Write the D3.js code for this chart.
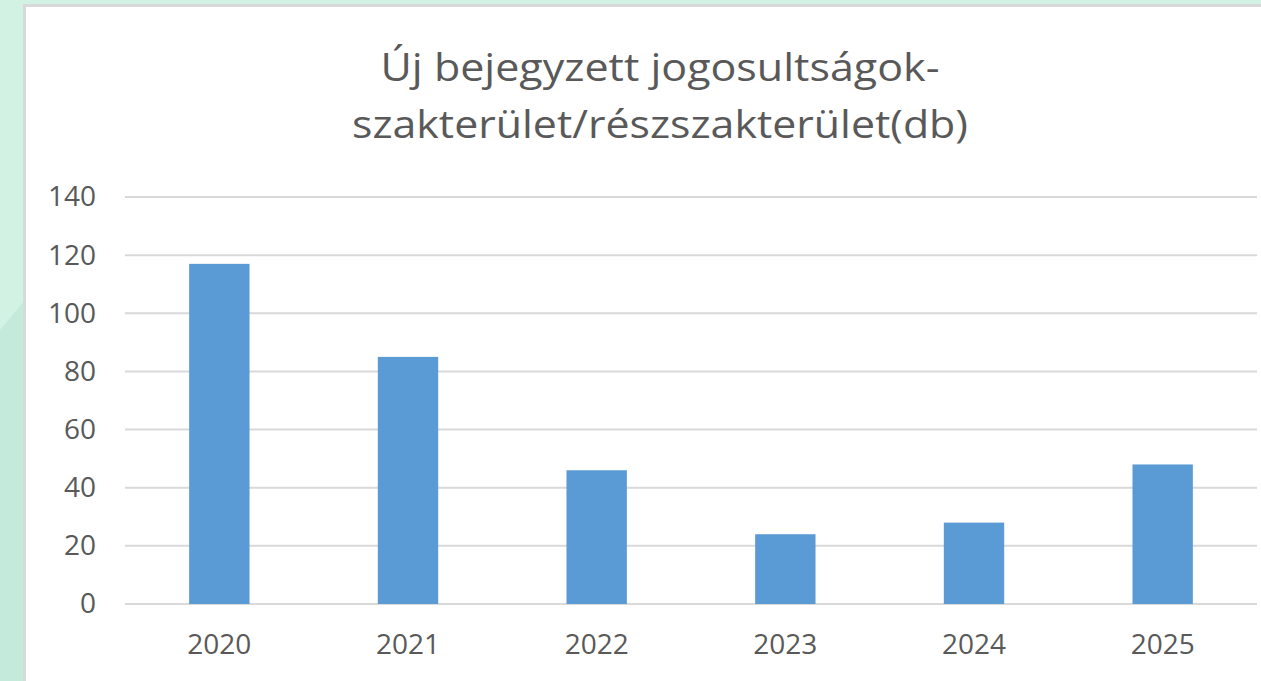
<!DOCTYPE html>
<html>
<head>
<meta charset="utf-8">
<script src="https://cdn.jsdelivr.net/npm/d3@7"></script>
<style>
  body { margin: 0; background: #d2f3e4; overflow: hidden; }
  text { font-family: "Open Sans", sans-serif; fill: #595959; }
</style>
</head>
<body>
<div id="chart"></div>
<script>
var years = ["2020", "2021", "2022", "2023", "2024", "2025"];
var counts = [117, 85, 46, 24, 28, 48];
var yTicks = [0, 20, 40, 60, 80, 100, 120, 140];
var titleLines = ["Új bejegyzett jogosultságok-", "szakterület/részszakterület(db)"];

var width = 1261, height = 681;

var svg = d3.select("#chart")
    .append("svg")
    .attr("width", width)
    .attr("height", height)

// mint backdrop with a soft diagonal sheen
svg.append("rect").attr("width", width).attr("height", height).attr("fill", "#d2f3e4")
svg.append("path")
    .attr("d", "M0,330 L25,300 L25,681 L0,681 Z")
    .attr("fill", "#c4eadb")

// chart box
svg.append("rect")
    .attr("x", 24.5)
    .attr("y", 5.5)
    .attr("width", 1300)
    .attr("height", 800)
    .attr("fill", "#ffffff")
    .attr("stroke", "#d9d9d9")
    .attr("stroke-width", 3)

var plotLeft = 125, plotRight = 1257, plotTop = 197, plotBottom = 604;

var x = d3.scaleBand()
    .domain(years)
    .range([plotLeft, plotRight])
    .paddingInner(0.68)
    .paddingOuter(0.34)

var y = d3.scaleLinear()
    .domain([0, 140])
    .range([plotBottom, plotTop])

// gridlines
svg.append("g")
  .selectAll("line")
  .data(yTicks)
  .enter().append("line")
    .attr("x1", plotLeft)
    .attr("x2", plotRight)
    .attr("y1", d => y(d))
    .attr("y2", d => y(d))
    .attr("stroke", "#d9d9d9")
    .attr("stroke-width", 2)

// y axis labels
var yAxis = d3.axisLeft(y).tickValues(yTicks).tickSize(0).tickPadding(29)
svg.append("g")
    .attr("transform", "translate(" + plotLeft + ",0)")
    .call(yAxis)
    .call(g => g.select(".domain").remove())
    .selectAll("text")
      .style("font-family", "'Open Sans', sans-serif")
      .style("font-size", "28px")
      .style("fill", "#595959")

// bars
svg.append("g")
  .selectAll("rect")
  .data(counts)
  .enter().append("rect")
    .attr("x", (d, i) => x(years[i]))
    .attr("y", d => y(d))
    .attr("width", x.bandwidth())
    .attr("height", d => y(0) - y(d))
    .attr("fill", "#5b9bd5")

// x axis labels
var xAxis = d3.axisBottom(x).tickSize(0).tickPadding(30)
svg.append("g")
    .attr("transform", "translate(0," + plotBottom + ")")
    .call(xAxis)
    .call(g => g.select(".domain").remove())
    .selectAll("text")
      .style("font-family", "'Open Sans', sans-serif")
      .style("font-size", "28px")
      .style("fill", "#595959")

// title (the original face is wider, so stretch each line to its width)
var titleWidths = [559, 616];
svg.append("g")
  .selectAll("text")
  .data(titleLines)
  .enter().append("text")
    .attr("x", 660)
    .attr("y", (d, i) => 81 + i * 57)
    .attr("text-anchor", "middle")
    .attr("textLength", (d, i) => titleWidths[i])
    .attr("lengthAdjust", "spacingAndGlyphs")
    .style("font-size", "38px")
    .text(d => d)
</script>
</body>
</html>
